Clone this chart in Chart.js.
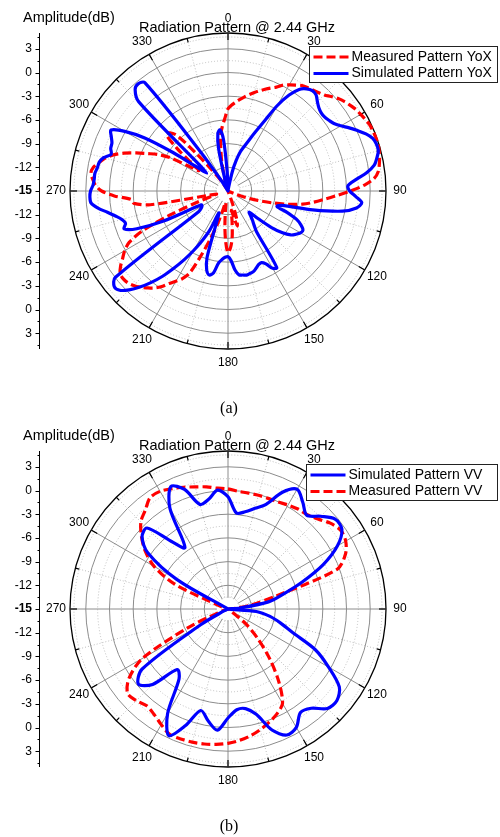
<!DOCTYPE html>
<html><head><meta charset="utf-8">
<script src="https://cdn.jsdelivr.net/npm/chart.js@4/dist/chart.umd.min.js"></script>
<style>
html,body{margin:0;padding:0;background:#fff;width:500px;height:837px;overflow:hidden;}
canvas{position:absolute;left:0;}
#ca{top:0;} #cb{top:418px;}
.cap{position:absolute;left:0;width:458px;text-align:center;font-family:"Liberation Serif","Times New Roman",serif;font-size:16px;line-height:18px;color:#000;}
</style></head><body>
<canvas id="ca" width="500" height="418"></canvas>
<canvas id="cb" width="500" height="419"></canvas>
<div class="cap" style="top:399px">(a)</div>
<div class="cap" style="top:817px">(b)</div>
<script>
// ---- categories (angle, degrees) ----
const anglesA = [0,2.5,5,7.5,10,12.5,15,17.5,20,22.5,25,27.5,
  30,32.5,35,37.5,40,42.5,45,47.5,50,52.5,55,57.5,
  60,62.5,65,67.5,70,72.5,75,77.5,80,82.5,85,87.5,
  90,92.5,95,97.5,100,102.5,105,107.5,110,112.5,115,117.5,
  120,122.5,125,127.5,130,132.5,135,137.5,140,142.5,145,147.5,
  150,152.5,155,157.5,160,162.5,165,167.5,170,172.5,175,177.5,
  180,182.5,185,187.5,190,192.5,195,197.5,200,202.5,205,207.5,
  210,212.5,215,217.5,220,222.5,225,227.5,230,232.5,235,237.5,
  240,242.5,245,247.5,250,252.5,255,257.5,260,262.5,265,267.5,
  270,272.5,275,277.5,280,282.5,285,287.5,290,292.5,295,297.5,
  300,302.5,305,307.5,310,312.5,315,317.5,320,322.5,325,327.5,
  330,332.5,335,337.5,340,342.5,345,347.5,350,352.5,355,357.5];
const anglesB = [0,5,10,15,20,25,30,35,40,45,50,55,60,65,70,75,80,85,90,95,100,105,110,115,
  120,125,130,135,140,145,150,155,160,165,170,175,180,185,190,195,200,205,210,215,220,225,230,235,
  240,245,250,255,260,265,270,275,280,285,290,295,300,305,310,315,320,325,330,335,340,345,350,355];
// ---- tick labels ----
const angleLabels = [0,30,60,90,120,150,180,210,240,270,300,330];
const ampTicks = [3,0,-3,-6,-9,-12,-15];
const ringValues = [-15,-13.5,-12,-10.5,-9,-7.5,-6,-4.5,-3,-1.5,0,1.5,3,4.5,5];

// ---- (a) series, dB, every 2.5 deg ----
const measuredYoX = [
  -4.6,-4.1,-3.7,-3.3,-2.9,-2.5,-2.1,-1.7,-1.3,-0.9,-0.5,0.1,
  0.5,0.9,1.3,1.5,1.7,1.9,2.2,2.7,3.2,3.6,3.9,4.2,
  4.4,4.6,4.8,4.85,4.9,4.9,4.8,4.65,4.45,4.2,3.6,2.3,
  0.5,-1.3,-2.8,-4.1,-5.4,-7.2,-9.2,-11,-12.6,-14,-15,-15,
  -15,-15,-15,-15,-15,-15,-15,-15,-15,-15,-15,-15,
  -15,-15,-15,-15,-13.5,-11.5,-10.4,-11.5,-12.5,-11,-9,-7.8,
  -7.2,-8.5,-10.5,-12.5,-13.5,-13.5,-12.5,-10.8,-8.7,-6.3,-3.6,-2.5,
  -1.8,-1.1,-0.2,0.5,1.0,1.5,1.9,2.2,2.3,2.2,1.6,0.8,
  0.1,-0.9,-3.0,-7,-11,-13,-13.5,-12.5,-5,-3,-2.7,-0.6,
  1.0,1.8,2.2,2.5,2.3,1.7,1.1,0.2,-1.0,-2.4,-3.8,-5.0,
  -6.6,-9.3,-10.5,-9,-6.5,-4.4,-4.6,-5.5,-9.0,-11.5,-13,-14,
  -14.8,-15,-15,-15,-15,-15,-13.5,-11.5,-9.8,-7.8,-6.8,-5.8];
const simulatedYoX = [
  -15,-15,-15,-15,-14.5,-12.5,-11,-9.8,-9,-8,-6.7,-5,
  -2.5,-0.6,0.7,1.3,1.6,1.5,1.0,0.6,0.4,0.4,0.6,0.9,
  1.5,2.3,3.1,3.9,4.5,4.7,4.7,4.3,3.8,2.7,1.2,0.2,
  0.4,1.2,2.0,1.4,-0.3,-4,-8,-8.5,-7,-5.6,-4.8,-4.3,
  -4.4,-4.8,-5.3,-6.3,-7.8,-9.8,-11.2,-10.8,-10.2,-9.6,-8.7,-3.5,
  -3.7,-4.6,-5.0,-4.9,-4.6,-4.3,-4.2,-4.1,-4.2,-4.3,-5.0,-6.2,
  -6.7,-6.6,-6.3,-5.8,-4.5,-4.1,-4.6,-6.2,-10.8,-12,-9.5,-7.9,
  -6.3,-4.7,-3.1,-1.4,0.1,1.5,2.7,3.6,3.8,3.0,-10.5,-11,
  -11.2,-11.2,-6,-2.5,-1.0,-1.4,-1.1,-0.4,0.5,1.6,2.4,2.5,
  2.4,2.1,2.0,2.0,1.8,1.7,1.3,0.5,0.8,0.9,1.3,1.7,
  0.1,-2.5,-6.5,-10,-11.5,-10,1.0,2.4,2.7,2.3,-9,-13.5,
  -15,-15,-15,-15,-15,-15,-13.5,-9.5,-7.6,-7.2,-8.5,-12.5];
// ---- (b) series, dB, every 5 deg ----
const simulatedVV = [-0.8,-2.8,-2.5,-1.8,-0.9,1.3,2.5,1.5,0.5,1.6,2.7,2.6,1.0,-1.7,-5.0,-7.8,-9.8,-13.5,-15,-11.4,-9.6,-8.1,-6.3,-2.8,
  -0.3,2.2,3.0,2.8,1.4,1.0,2.3,2.6,1.3,-1.2,-2.2,-2.2,-1.2,0.4,-0.6,-1.7,0.7,2.7,0.3,-4.2,-5.0,-1.5,-0.2,-1.7,
  -11,-14.5,-15,-15,-15,-15,-15,-15,-15,-15,-15,-15,-7.5,-2.6,-0.8,-0.5,-3.8,-5.5,-0.3,2.1,1.1,-1.3,-0.9,0.1];
const measuredVV = [0.2,-0.05,-0.1,-0.1,-0.1,-0.05,0.2,0.45,0.6,1.1,1.9,2.4,2.2,1.4,-0.3,-8.8,-12,-14,-15,-15,-15,-15,-15,-15,
  -15,-14.5,-12,-9.6,-6.8,-3.8,-1.2,-0.35,0.25,0.8,1.3,1.7,2.0,2.2,2.35,2.45,2.5,2.5,1.9,1.3,1.0,1.4,1.6,0.3,
  -2.5,-9.5,-14,-15,-15,-15,-15,-15,-15,-15,-14,-7.5,-4.2,-2.2,-0.7,0.6,1.3,2.2,2.2,1.8,1.4,1.0,0.7,0.35];

const FONT = '"Liberation Sans", Arial, sans-serif';
const RED = '#ff0000', BLUE = '#0000ff';

function isMajor(v){ return Math.abs(v % 3) < 1e-9; }

function decor(cfg){
  return {
    id: 'decor',
    beforeDatasetsDraw(chart){
      const s = chart.scales.r, c = chart.ctx, R = s.drawingArea;
      const labels = chart.data.labels;
      c.save();
      c.fillStyle = '#fff';
      c.beginPath();
      c.arc(s.xCenter, s.yCenter, s.getDistanceFromCenterForValue(-13.5) - 0.6, 0, Math.PI*2);
      c.fill();
      c.strokeStyle = '#000'; c.lineWidth = 1.2;
      labels.forEach((a, i) => {
        if (a % 15 !== 0) return;
        const len = a % 30 === 0 ? 7 : 4;
        const p1 = s.getPointPosition(i, R), p2 = s.getPointPosition(i, R - len);
        c.beginPath(); c.moveTo(p1.x, p1.y); c.lineTo(p2.x, p2.y); c.stroke();
      });
      c.restore();
    },
    afterDraw(chart){
      const s = chart.scales.r, c = chart.ctx, R = s.drawingArea;
      const labels = chart.data.labels;
      c.save();
      c.fillStyle = '#000';
      c.font = '12px ' + FONT; c.textAlign = 'center'; c.textBaseline = 'middle';
      angleLabels.forEach(a => {
        const i = labels.indexOf(a);
        const p = s.getPointPosition(i, R + 14);
        c.fillText(String(a), p.x, p.y);
      });
      const ax = 39.5, yc = s.yCenter;
      c.strokeStyle = '#000'; c.lineWidth = 1;
      c.beginPath(); c.moveTo(ax, yc - R); c.lineTo(ax, yc + R); c.stroke();
      c.textAlign = 'right';
      ampTicks.forEach(v => {
        const d = s.getDistanceFromCenterForValue(v);
        const ys = v === -15 ? [yc] : [yc - d, yc + d];
        ys.forEach(y => {
          c.beginPath(); c.moveTo(ax - 4, Math.round(y) + 0.5); c.lineTo(ax, Math.round(y) + 0.5); c.stroke();
          c.font = (v === -15 ? 'bold ' : '') + '12px ' + FONT;
          c.fillText(String(v), 32, y);
        });
        const dm = s.getDistanceFromCenterForValue(v + 1.5);
        [yc - dm, yc + dm].forEach(y => {
          c.beginPath(); c.moveTo(ax - 2, Math.round(y) + 0.5); c.lineTo(ax, Math.round(y) + 0.5); c.stroke();
        });
      });
      c.textAlign = 'left'; c.font = '14.5px ' + FONT;
      c.fillText('Amplitude(dB)', 23, 18);
      c.textAlign = 'center';
      c.fillText('Radiation Pattern @ 2.44 GHz', 237, 28);
      const L = cfg.legend;
      c.fillStyle = '#fff'; c.fillRect(L.x, 46.5, 497.5 - L.x, 36);
      c.strokeStyle = '#222'; c.lineWidth = 1; c.strokeRect(L.x, 46.5, 497.5 - L.x, 36);
      c.font = '14px ' + FONT; c.textAlign = 'left';
      L.items.forEach((it, k) => {
        const y = 57 + k * 16.5;
        c.strokeStyle = it.color; c.lineWidth = 3; c.lineCap = 'butt';
        c.setLineDash(it.dash);
        c.beginPath(); c.moveTo(L.x + 4, y); c.lineTo(L.x + 39, y); c.stroke();
        c.setLineDash([]);
        c.fillStyle = '#000';
        c.fillText(it.text, L.x + 42, y);
      });
      c.restore();
    }
  };
}

function makeChart(id, labels, datasets, legend, bottomPad){
  return new Chart(document.getElementById(id), {
    type: 'radar',
    data: { labels, datasets },
    options: {
      responsive: false, animation: false, devicePixelRatio: 1,
      layout: { padding: { left: 70, top: 33, right: 114, bottom: bottomPad } },
      plugins: { legend: { display: false }, tooltip: { enabled: false }, title: { display: false } },
      elements: { point: { radius: 0 }, line: { tension: 0.3, borderWidth: 3.2, fill: false, borderCapStyle: 'butt', borderJoinStyle: 'round' } },
      scales: {
        r: {
          min: -15, max: 5,
          ticks: { display: false, stepSize: 1.5 },
          afterBuildTicks: sc => { sc.ticks = ringValues.map(v => ({ value: v })); },
          pointLabels: { display: false },
          grid: {
            circular: true,
            color: ctx => ctx.tick.value === 5 ? '#000' : (isMajor(ctx.tick.value) ? '#8c8c8c' : '#bdbdbd'),
            lineWidth: ctx => ctx.tick.value === 5 ? 1.3 : 1,
            borderDash: ctx => (ctx.tick.value === 5 || isMajor(ctx.tick.value)) ? [] : [1, 2]
          },
          border: { dash: ctx => (ctx.tick && (ctx.tick.value === 5 || isMajor(ctx.tick.value))) ? [] : [1, 2] },
          angleLines: {
            display: true,
            color: ctx => labels[ctx.index] % 30 === 0 ? '#8c8c8c' : (labels[ctx.index] % 15 === 0 ? '#bdbdbd' : 'rgba(0,0,0,0)'),
            lineWidth: ctx => labels[ctx.index] % 15 === 0 ? 1 : 0,
            borderDash: ctx => labels[ctx.index] % 30 === 0 ? [] : [1, 2]
          }
        }
      }
    },
    plugins: [decor({ legend })]
  });
}

makeChart('ca', anglesA, [
  { label: 'Simulated Pattern YoX', data: simulatedYoX, borderColor: BLUE, order: 0, clip: false },
  { label: 'Measured Pattern YoX', data: measuredYoX, borderColor: RED, borderDash: [9, 4], order: 1, clip: false }
], { x: 309.5, items: [
  { text: 'Measured Pattern YoX', color: RED, dash: [9, 4] },
  { text: 'Simulated Pattern YoX', color: BLUE, dash: [] }
] }, 69);

makeChart('cb', anglesB, [
  { label: 'Simulated Pattern VV', data: simulatedVV, borderColor: BLUE, order: 0, clip: false },
  { label: 'Measured Pattern VV', data: measuredVV, borderColor: RED, borderDash: [9, 4], order: 1, clip: false }
], { x: 306.5, items: [
  { text: 'Simulated Pattern VV', color: BLUE, dash: [] },
  { text: 'Measured Pattern VV', color: RED, dash: [9, 4] }
] }, 70);
</script>
</body></html>
